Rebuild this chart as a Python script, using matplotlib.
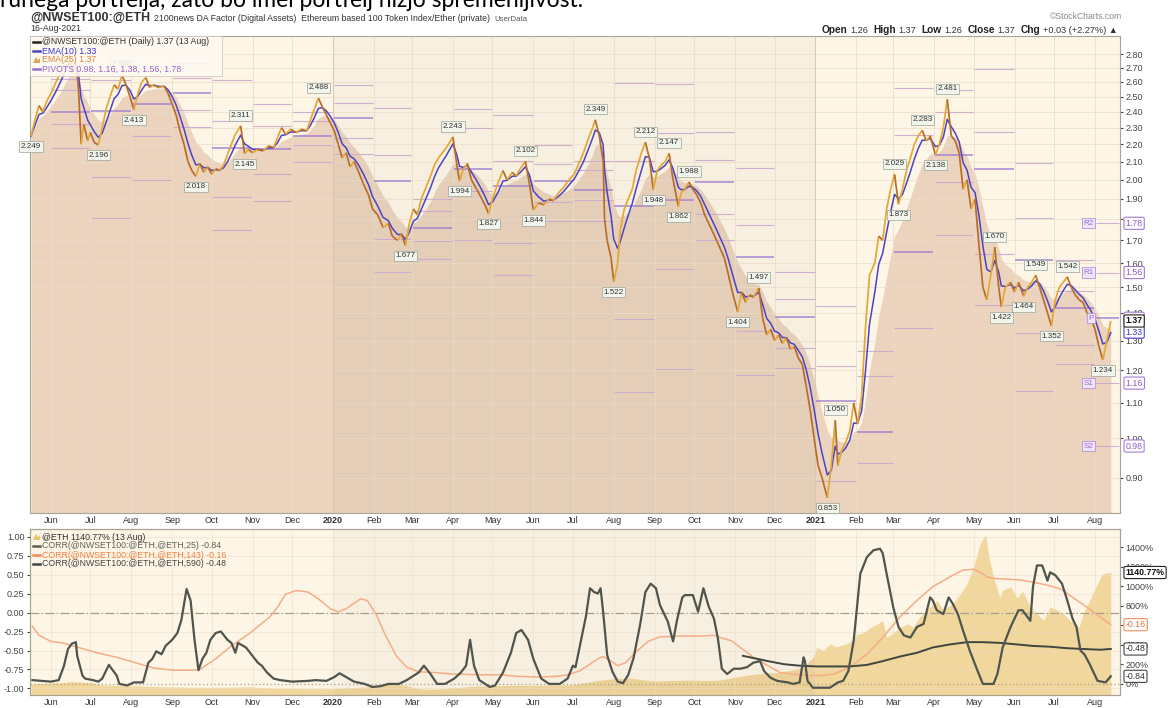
import numpy as np
import pandas as pd
import matplotlib
matplotlib.use("Agg")
import matplotlib.pyplot as plt
import matplotlib.dates as mdates
from matplotlib.collections import LineCollection
from matplotlib.lines import Line2D
from matplotlib.patches import Rectangle, Polygon
from matplotlib.transforms import IdentityTransform
from matplotlib.ticker import NullLocator, NullFormatter

plt.rcParams['font.family'] = ['Liberation Sans', 'DejaVu Sans']

# ---------------------------------------------------------------- data
price_dates = [
    '2019-05-17', '2019-05-20', '2019-05-23', '2019-05-26', '2019-05-29', '2019-06-01', '2019-06-05',
    '2019-06-09', '2019-06-12', '2019-06-15', '2019-06-17', '2019-06-20', '2019-06-22', '2019-06-24',
    '2019-06-26', '2019-06-29', '2019-07-01', '2019-07-04', '2019-07-07', '2019-07-10', '2019-07-13',
    '2019-07-16', '2019-07-19', '2019-07-22', '2019-07-25', '2019-07-28', '2019-07-31', '2019-08-03',
    '2019-08-06', '2019-08-09', '2019-08-12', '2019-08-15', '2019-08-18', '2019-08-22', '2019-08-26',
    '2019-08-29', '2019-09-01', '2019-09-04', '2019-09-07', '2019-09-10', '2019-09-13', '2019-09-16',
    '2019-09-19', '2019-09-22', '2019-09-25', '2019-09-28', '2019-10-01', '2019-10-04', '2019-10-07',
    '2019-10-10', '2019-10-13', '2019-10-16', '2019-10-19', '2019-10-23', '2019-10-26', '2019-10-29',
    '2019-11-01', '2019-11-05', '2019-11-09', '2019-11-13', '2019-11-17', '2019-11-20', '2019-11-23',
    '2019-11-26', '2019-11-30', '2019-12-04', '2019-12-08', '2019-12-12', '2019-12-15', '2019-12-18',
    '2019-12-21', '2019-12-24', '2019-12-27', '2019-12-30', '2020-01-02', '2020-01-05', '2020-01-08',
    '2020-01-11', '2020-01-14', '2020-01-17', '2020-01-20', '2020-01-24', '2020-01-28', '2020-01-31',
    '2020-02-04', '2020-02-08', '2020-02-12', '2020-02-15', '2020-02-19', '2020-02-22', '2020-02-25',
    '2020-02-28', '2020-03-02', '2020-03-05', '2020-03-08', '2020-03-11', '2020-03-15', '2020-03-18',
    '2020-03-21', '2020-03-27', '2020-04-01', '2020-04-04', '2020-04-06', '2020-04-09', '2020-04-12',
    '2020-04-15', '2020-04-19', '2020-04-23', '2020-04-26', '2020-04-28', '2020-05-01', '2020-05-05',
    '2020-05-09', '2020-05-12', '2020-05-16', '2020-05-19', '2020-05-22', '2020-05-26', '2020-05-29',
    '2020-06-01', '2020-06-05', '2020-06-09', '2020-06-13', '2020-06-16', '2020-06-20', '2020-06-24',
    '2020-06-28', '2020-07-02', '2020-07-05', '2020-07-09', '2020-07-13', '2020-07-16', '2020-07-18',
    '2020-07-21', '2020-07-24', '2020-07-25', '2020-07-27', '2020-07-30', '2020-08-01', '2020-08-04',
    '2020-08-06', '2020-08-09', '2020-08-12', '2020-08-15', '2020-08-18', '2020-08-22', '2020-08-25',
    '2020-08-28', '2020-08-31', '2020-09-03', '2020-09-06', '2020-09-09', '2020-09-12', '2020-09-15',
    '2020-09-19', '2020-09-21', '2020-09-24', '2020-09-27', '2020-09-30', '2020-10-03', '2020-10-06',
    '2020-10-09', '2020-10-12', '2020-10-15', '2020-10-18', '2020-10-21', '2020-10-24', '2020-10-27',
    '2020-10-30', '2020-11-03', '2020-11-06', '2020-11-09', '2020-11-12', '2020-11-15', '2020-11-19',
    '2020-11-22', '2020-11-25', '2020-11-28', '2020-12-01', '2020-12-04', '2020-12-07', '2020-12-10',
    '2020-12-13', '2020-12-16', '2020-12-19', '2020-12-22', '2020-12-25', '2020-12-28', '2020-12-31',
    '2021-01-03', '2021-01-06', '2021-01-10', '2021-01-13', '2021-01-16', '2021-01-18', '2021-01-21',
    '2021-01-24', '2021-01-27', '2021-01-30', '2021-02-02', '2021-02-05', '2021-02-08', '2021-02-11',
    '2021-02-15', '2021-02-18', '2021-02-21', '2021-02-24', '2021-02-27', '2021-03-02', '2021-03-05',
    '2021-03-08', '2021-03-11', '2021-03-14', '2021-03-17', '2021-03-20', '2021-03-23', '2021-03-26',
    '2021-03-29', '2021-04-02', '2021-04-05', '2021-04-08', '2021-04-11', '2021-04-14', '2021-04-17',
    '2021-04-20', '2021-04-23', '2021-04-26', '2021-04-29', '2021-05-02', '2021-05-05', '2021-05-08',
    '2021-05-11', '2021-05-14', '2021-05-17', '2021-05-20', '2021-05-22', '2021-05-25', '2021-05-29',
    '2021-06-01', '2021-06-04', '2021-06-08', '2021-06-11', '2021-06-14', '2021-06-17', '2021-06-20',
    '2021-06-23', '2021-06-26', '2021-06-29', '2021-07-02', '2021-07-05', '2021-07-08', '2021-07-11',
    '2021-07-14', '2021-07-17', '2021-07-20', '2021-07-23', '2021-07-26', '2021-07-29', '2021-08-01',
    '2021-08-04', '2021-08-07', '2021-08-10', '2021-08-13']
price_values = [
    2.249, 2.35, 2.44, 2.40, 2.47, 2.52, 2.60,
    2.68, 2.75, 2.80, 2.66, 2.74, 2.55, 2.20,
    2.32, 2.22, 2.27, 2.21, 2.196, 2.30, 2.42,
    2.50, 2.58, 2.55, 2.646, 2.58, 2.50, 2.413,
    2.52, 2.60, 2.63, 2.56, 2.58, 2.56, 2.57,
    2.52, 2.45, 2.38, 2.28, 2.20, 2.10, 2.05,
    2.018, 2.09, 2.04, 2.07, 2.03, 2.06, 2.05,
    2.08, 2.14, 2.20, 2.26, 2.311, 2.145, 2.17,
    2.15, 2.17, 2.16, 2.19, 2.18, 2.24, 2.30,
    2.26, 2.29, 2.27, 2.29, 2.28, 2.35, 2.42,
    2.488, 2.43, 2.38, 2.33, 2.28, 2.20, 2.12,
    2.15, 2.07, 2.10, 2.05, 1.98, 1.92, 1.85,
    1.82, 1.76, 1.78, 1.72, 1.70, 1.73, 1.677,
    1.78, 1.85, 1.82, 1.90, 1.95, 2.02, 2.08,
    2.12, 2.18, 2.243, 2.08, 1.994, 2.06, 2.09,
    2.00, 1.95, 1.90, 1.86, 1.827, 1.90, 1.98,
    2.05, 2.00, 2.04, 2.02, 2.06, 2.102, 1.98,
    1.844, 1.88, 1.87, 1.90, 1.89, 1.93, 1.96,
    2.00, 2.03, 2.08, 2.15, 2.24, 2.30, 2.349,
    2.25, 2.10, 1.80, 1.70, 1.62, 1.522, 1.60,
    1.75, 1.85, 1.90, 1.95, 2.05, 2.15, 2.212,
    2.12, 1.948, 2.05, 2.08, 2.10, 2.147, 2.00,
    1.862, 1.93, 1.95, 1.988, 1.95, 1.92, 1.88,
    1.82, 1.78, 1.74, 1.70, 1.66, 1.62, 1.55,
    1.48, 1.404, 1.48, 1.44, 1.47, 1.46, 1.497,
    1.38, 1.32, 1.34, 1.30, 1.32, 1.29, 1.31,
    1.27, 1.28, 1.24, 1.22, 1.15, 1.08, 1.00,
    0.93, 0.90, 0.853, 0.93, 1.050, 0.93, 0.97,
    0.99, 1.02, 1.10, 1.04, 1.12, 1.35, 1.55,
    1.60, 1.72, 1.70, 1.85, 1.95, 2.029, 1.873,
    1.95, 2.05, 2.12, 2.20, 2.25, 2.283, 2.22,
    2.25, 2.138, 2.20, 2.30, 2.481, 2.25, 2.22,
    2.15, 1.95, 2.00, 1.85, 1.90, 1.68, 1.50,
    1.45, 1.55, 1.670, 1.50, 1.422, 1.50, 1.52,
    1.48, 1.52, 1.464, 1.50, 1.52, 1.549, 1.50,
    1.45, 1.40, 1.352, 1.45, 1.50, 1.52, 1.542,
    1.50, 1.47, 1.45, 1.44, 1.40, 1.38, 1.34,
    1.28, 1.234, 1.30, 1.37]

extreme_dates = [
    '2019-05-17', '2019-07-07', '2019-07-25', '2019-08-03', '2019-09-19', '2019-10-23', '2019-10-26',
    '2019-12-21', '2020-02-25', '2020-04-01', '2020-04-06', '2020-04-28', '2020-05-26', '2020-06-01',
    '2020-07-18', '2020-08-01', '2020-08-25', '2020-08-31', '2020-09-12', '2020-09-19', '2020-09-27',
    '2020-11-03', '2020-11-19', '2021-01-10', '2021-01-16', '2021-03-02', '2021-03-05', '2021-03-23',
    '2021-04-02', '2021-04-11', '2021-05-17', '2021-05-22', '2021-06-08', '2021-06-17', '2021-06-29',
    '2021-07-11', '2021-08-07']

ema_fast_n, ema_slow_n = 10, 25
last_pivots = [0.98, 1.16, 1.38, 1.56, 1.78]
pivot_names = ['S2', 'S1', 'P', 'R1', 'R2']
last_close, last_ema10, last_ema25 = 1.37, 1.33, 1.37

corr25_dates = [
    '2019-05-18', '2019-06-01', '2019-06-07', '2019-06-11', '2019-06-14', '2019-06-17', '2019-06-20',
    '2019-06-21', '2019-06-25', '2019-06-27', '2019-07-03', '2019-07-07', '2019-07-10', '2019-07-15',
    '2019-07-21', '2019-07-23', '2019-07-29', '2019-08-03', '2019-08-10', '2019-08-14', '2019-08-17',
    '2019-08-20', '2019-08-24', '2019-08-27', '2019-09-01', '2019-09-05', '2019-09-08', '2019-09-12',
    '2019-09-15', '2019-09-18', '2019-09-21', '2019-09-24', '2019-09-27', '2019-09-30', '2019-10-04',
    '2019-10-08', '2019-10-13', '2019-10-16', '2019-10-19', '2019-10-21', '2019-10-27', '2019-11-01',
    '2019-11-05', '2019-11-08', '2019-11-12', '2019-11-17', '2019-11-22', '2019-12-01', '2019-12-13',
    '2019-12-19', '2019-12-27', '2020-01-02', '2020-01-06', '2020-01-11', '2020-01-17', '2020-01-25',
    '2020-01-31', '2020-02-06', '2020-02-12', '2020-02-20', '2020-02-26', '2020-03-06', '2020-03-10',
    '2020-03-15', '2020-03-20', '2020-03-26', '2020-04-02', '2020-04-07', '2020-04-11', '2020-04-14',
    '2020-04-17', '2020-04-21', '2020-04-29', '2020-05-03', '2020-05-09', '2020-05-15', '2020-05-19',
    '2020-05-23', '2020-05-28', '2020-06-01', '2020-06-07', '2020-06-13', '2020-06-21', '2020-06-27',
    '2020-07-01', '2020-07-03', '2020-07-07', '2020-07-11', '2020-07-14', '2020-07-17', '2020-07-20',
    '2020-07-22', '2020-07-24', '2020-07-27', '2020-07-31', '2020-08-04', '2020-08-08', '2020-08-12',
    '2020-08-16', '2020-08-21', '2020-08-25', '2020-08-29', '2020-09-02', '2020-09-05', '2020-09-11',
    '2020-09-15', '2020-09-18', '2020-09-22', '2020-09-24', '2020-09-30', '2020-10-04', '2020-10-08',
    '2020-10-12', '2020-10-16', '2020-10-19', '2020-10-22', '2020-10-26', '2020-10-31', '2020-11-05',
    '2020-11-10', '2020-11-15', '2020-11-20', '2020-11-23', '2020-11-28', '2020-12-03', '2020-12-11',
    '2020-12-15', '2020-12-20', '2020-12-23', '2020-12-24', '2020-12-26', '2020-12-30', '2021-01-07',
    '2021-01-12', '2021-01-18', '2021-01-22', '2021-01-26', '2021-01-30', '2021-02-04', '2021-02-09',
    '2021-02-14', '2021-02-19', '2021-02-21', '2021-02-24', '2021-03-01', '2021-03-05', '2021-03-09',
    '2021-03-14', '2021-03-19', '2021-03-24', '2021-03-29', '2021-03-31', '2021-04-03', '2021-04-08',
    '2021-04-12', '2021-04-15', '2021-04-19', '2021-04-23', '2021-04-28', '2021-05-04', '2021-05-08',
    '2021-05-16', '2021-05-19', '2021-05-23', '2021-05-29', '2021-06-04', '2021-06-07', '2021-06-13',
    '2021-06-15', '2021-06-18', '2021-06-22', '2021-06-26', '2021-06-28', '2021-07-02', '2021-07-07',
    '2021-07-11', '2021-07-15', '2021-07-18', '2021-07-21', '2021-07-24', '2021-07-28', '2021-08-03',
    '2021-08-09', '2021-08-13']
corr25_values = [
    -0.89, -0.91, -0.89, -0.70, -0.48, -0.41, -0.39,
    -0.57, -0.83, -0.87, -0.89, -0.91, -0.87, -0.69,
    -0.83, -0.94, -0.96, -0.92, -0.92, -0.66, -0.61,
    -0.51, -0.55, -0.44, -0.36, -0.27, -0.10, 0.31,
    0.16, -0.36, -0.76, -0.61, -0.53, -0.36, -0.27,
    -0.25, -0.36, -0.40, -0.53, -0.40, -0.46, -0.57,
    -0.66, -0.70, -0.79, -0.87, -0.89, -0.91, -0.90,
    -0.89, -0.90, -0.85, -0.80, -0.85, -0.91, -0.94,
    -0.98, -0.97, -0.94, -0.94, -0.89, -0.79, -0.70,
    -0.81, -0.94, -0.94, -0.87, -0.79, -0.70, -0.36,
    -0.70, -0.89, -0.98, -0.96, -0.79, -0.53, -0.27,
    -0.23, -0.36, -0.61, -0.87, -0.94, -0.94, -0.87,
    -0.70, -0.72, -0.38, -0.04, 0.32, 0.27, 0.25,
    0.32, 0.00, -0.56, -0.78, -0.91, -0.93, -0.82,
    -0.60, -0.16, 0.27, 0.38, 0.32, 0.10, -0.12,
    -0.38, -0.10, 0.20, 0.23, 0.23, 0.01, 0.32,
    0.08, -0.08, -0.34, -0.74, -0.81, -0.74, -0.74,
    -0.72, -0.66, -0.64, -0.77, -0.86, -0.90, -0.92,
    -0.94, -0.92, -0.59, -0.64, -0.90, -0.99, -0.99,
    -0.99, -0.92, -0.90, -0.77, -0.37, 0.51, 0.73,
    0.82, 0.84, 0.78, 0.51, 0.07, -0.19, -0.30,
    -0.33, -0.19, -0.15, 0.20, 0.16, 0.03, -0.02,
    0.20, 0.12, -0.02, -0.24, -0.50, -0.77, -0.94,
    -0.94, -0.81, -0.46, -0.19, 0.03, 0.03, -0.11,
    0.34, 0.62, 0.62, 0.42, 0.53, 0.49, 0.38,
    0.16, -0.08, -0.19, -0.50, -0.55, -0.68, -0.90,
    -0.92, -0.84]

corr143_dates = [
    '2019-05-18', '2019-05-23', '2019-06-01', '2019-06-10', '2019-06-22', '2019-07-06', '2019-07-21',
    '2019-08-04', '2019-08-18', '2019-09-02', '2019-09-17', '2019-09-22', '2019-10-04', '2019-10-16',
    '2019-10-30', '2019-11-14', '2019-11-20', '2019-11-26', '2019-12-04', '2019-12-13', '2019-12-21',
    '2019-12-30', '2020-01-05', '2020-01-11', '2020-01-16', '2020-01-22', '2020-01-27', '2020-02-03',
    '2020-02-09', '2020-02-18', '2020-02-26', '2020-03-06', '2020-03-18', '2020-04-01', '2020-04-21',
    '2020-05-06', '2020-05-20', '2020-06-04', '2020-06-19', '2020-06-27', '2020-07-06', '2020-07-14',
    '2020-07-21', '2020-07-24', '2020-07-30', '2020-08-04', '2020-08-10', '2020-08-16', '2020-08-27',
    '2020-09-05', '2020-09-21', '2020-10-06', '2020-10-16', '2020-10-21', '2020-10-29', '2020-11-05',
    '2020-11-15', '2020-11-26', '2020-12-05', '2020-12-15', '2020-12-26', '2021-01-05', '2021-01-15',
    '2021-01-27', '2021-02-09', '2021-02-21', '2021-03-06', '2021-03-19', '2021-03-31', '2021-04-13',
    '2021-04-23', '2021-05-01', '2021-05-06', '2021-05-11', '2021-05-16', '2021-05-26', '2021-06-05',
    '2021-06-15', '2021-06-26', '2021-07-06', '2021-07-15', '2021-07-26', '2021-08-05', '2021-08-13']
corr143_values = [
    -0.18, -0.30, -0.38, -0.40, -0.46, -0.53, -0.59,
    -0.66, -0.73, -0.76, -0.76, -0.75, -0.61, -0.44,
    -0.27, -0.06, 0.07, 0.24, 0.29, 0.27, 0.18,
    0.05, 0.01, 0.05, 0.11, 0.18, 0.16, -0.03,
    -0.27, -0.57, -0.72, -0.78, -0.79, -0.81, -0.82,
    -0.82, -0.84, -0.85, -0.84, -0.82, -0.77, -0.68,
    -0.60, -0.58, -0.64, -0.70, -0.66, -0.55, -0.38,
    -0.32, -0.31, -0.31, -0.30, -0.33, -0.37, -0.46,
    -0.59, -0.70, -0.79, -0.81, -0.83, -0.83, -0.81,
    -0.72, -0.55, -0.33, -0.06, 0.16, 0.34, 0.47,
    0.56, 0.57, 0.53, 0.47, 0.45, 0.44, 0.43,
    0.40, 0.36, 0.31, 0.20, 0.07, -0.06, -0.16]

corr590_dates = [
    '2020-11-07', '2020-11-26', '2020-12-08', '2020-12-20', '2021-01-02', '2021-01-15', '2021-01-27',
    '2021-02-09', '2021-02-21', '2021-03-06', '2021-03-19', '2021-03-31', '2021-04-13', '2021-04-26',
    '2021-05-08', '2021-05-21', '2021-06-03', '2021-06-15', '2021-06-28', '2021-07-11', '2021-07-23',
    '2021-08-05', '2021-08-13']
corr590_values = [
    -0.57, -0.64, -0.68, -0.70, -0.71, -0.71, -0.71,
    -0.69, -0.64, -0.58, -0.53, -0.46, -0.42, -0.39,
    -0.39, -0.40, -0.42, -0.44, -0.45, -0.47, -0.48,
    -0.49, -0.48]

eth_dates = [
    '2019-05-17', '2019-06-01', '2019-06-09', '2019-06-17', '2019-06-24', '2019-07-02', '2019-07-09',
    '2019-07-21', '2019-08-01', '2019-08-16', '2019-08-31', '2019-09-15', '2019-10-01', '2019-10-16',
    '2019-10-31', '2019-11-11', '2019-11-23', '2019-12-08', '2019-12-23', '2020-01-03', '2020-01-15',
    '2020-01-26', '2020-02-06', '2020-02-18', '2020-02-25', '2020-03-04', '2020-03-11', '2020-03-23',
    '2020-04-03', '2020-04-15', '2020-04-30', '2020-05-15', '2020-05-30', '2020-06-14', '2020-06-29',
    '2020-07-11', '2020-07-22', '2020-08-02', '2020-08-14', '2020-08-25', '2020-09-02', '2020-09-13',
    '2020-09-28', '2020-10-10', '2020-10-21', '2020-11-01', '2020-11-13', '2020-11-24', '2020-12-05',
    '2020-12-17', '2020-12-24', '2020-12-30', '2021-01-02', '2021-01-07', '2021-01-12', '2021-01-17',
    '2021-01-22', '2021-01-27', '2021-02-02', '2021-02-06', '2021-02-12', '2021-02-17', '2021-02-21',
    '2021-02-24', '2021-03-01', '2021-03-06', '2021-03-12', '2021-03-16', '2021-03-21', '2021-03-29',
    '2021-04-03', '2021-04-08', '2021-04-15', '2021-04-21', '2021-04-26', '2021-05-01', '2021-05-06',
    '2021-05-10', '2021-05-13', '2021-05-17', '2021-05-21', '2021-05-23', '2021-05-29', '2021-06-03',
    '2021-06-07', '2021-06-13', '2021-06-18', '2021-06-23', '2021-06-28', '2021-07-03', '2021-07-08',
    '2021-07-13', '2021-07-20', '2021-07-23', '2021-07-28', '2021-08-03', '2021-08-07', '2021-08-13']
eth_pct = [
    0, 10, 15, 25, 20, 15, -10,
    -15, -18, -25, -30, -33, -35, -32,
    -30, -40, -45, -48, -50, -48, -40,
    -30, -10, 0, -15, -45, -55, -50,
    -40, -25, -20, -15, -15, -10, -10,
    15, 40, 55, 60, 40, 30, 35,
    40, 35, 40, 70, 95, 110, 120,
    150, 190, 270, 375, 340, 410, 380,
    400, 426, 510, 520, 580, 615, 650,
    478, 520, 580, 615, 580, 684, 787,
    855, 760, 820, 924, 1027, 1199, 1440,
    1526, 1268, 1050, 880, 960, 993, 880,
    950, 787, 718, 650, 787, 760, 720,
    650, 580, 718, 855, 1027, 1130, 1140.77]

corr_last = {'25': -0.84, '143': -0.16, '590': -0.48}
eth_last = 1140.77

price_ticks = [0.90, 1.00, 1.10, 1.20, 1.30, 1.40, 1.50, 1.60, 1.70, 1.80, 1.90,
               2.00, 2.10, 2.20, 2.30, 2.40, 2.50, 2.60, 2.70, 2.80]
corr_ticks = [-1.00, -0.75, -0.50, -0.25, 0.00, 0.25, 0.50, 0.75, 1.00]
pct_ticks = [0, 200, 400, 600, 800, 1000, 1200, 1400]
month_ticks = pd.date_range('2019-06-01', '2021-08-01', freq='MS')
x_start, x_end = pd.Timestamp('2019-05-16 05:00'), pd.Timestamp('2021-08-20')

# ---------------------------------------------------------------- figure
W, H = 1168, 708
fig = plt.figure(figsize=(W / 100, H / 100), dpi=100)
fig.patch.set_facecolor('white')


def fx(x):
    return x / W


def fy(y):
    return 1 - y / H


ax = fig.add_axes([fx(30), fy(513), fx(1120) - fx(30), fy(36) - fy(513)])
ax2 = fig.add_axes([fx(30), fy(695), fx(1120) - fx(30), fy(529) - fy(695)])
ax2b = ax2.twinx()

CREAM = '#fdf5e5'
TAN = '#ebd3bd'
GRID = '#eadcc6'
SPINE = '#aaa294'

s = pd.Series(price_values, index=pd.to_datetime(price_dates))


def ema(series, n):
    hl = np.log(2) / -np.log(1 - 2 / (n + 1))
    return series.ewm(halflife=pd.Timedelta(days=hl), times=series.index).mean()


ema10 = ema(s, ema_fast_n)
ema25 = ema(s, ema_slow_n)

# ---------------- main panel
ax.set_facecolor(CREAM)
ax.set_yscale('log')
ax.set_xlim(x_start, x_end)
ax.set_ylim(0.819, 2.94)

ax.fill_between(s.index, 0.5, ema25.values, color=TAN, lw=0, zorder=1)
ax.axvspan(pd.Timestamp('2020-01-01'), pd.Timestamp('2021-01-01'), color='black', alpha=0.025, lw=0, zorder=1.2)
for t in price_ticks:
    ax.axhline(t, color=GRID, lw=0.6, alpha=0.8, zorder=1.4)
for m in month_ticks:
    yr = m.month == 1
    ax.axvline(m, color='#d9c8b0' if yr else GRID, lw=0.8 if yr else 0.6, alpha=0.9, zorder=1.4)

# monthly pivot points (from previous month's high / low / close)
mon = s.resample('MS').agg(['max', 'min', 'last'])
P = (mon['max'] + mon['min'] + mon['last']) / 3
rng = mon['max'] - mon['min']
piv = pd.DataFrame({'S2': P - rng, 'S1': 2 * P - mon['max'], 'P': P,
                    'R1': 2 * P - mon['min'], 'R2': P + rng})
piv.index = piv.index + pd.offsets.MonthBegin(1)
last_month = pd.Timestamp('2021-08-01')
piv.loc[last_month] = last_pivots
for start, row in piv.iterrows():
    if start >= x_end:
        continue
    end = min(start + pd.offsets.MonthBegin(1), x_end)
    for name in pivot_names:
        isP = name == 'P'
        ax.hlines(row[name], start + pd.Timedelta(hours=12), end - pd.Timedelta(hours=12),
                  color='#a07cd2' if isP else '#c9a9cf', lw=1.1 if isP else 0.8,
                  alpha=0.9, zorder=2)

ax.plot(ema10.index, ema10.values, color='#4a43c6', lw=1.1, zorder=3)

xn = mdates.date2num(s.index.to_pydatetime())
pts = np.column_stack([xn, s.values])
segs = np.stack([pts[:-1], pts[1:]], axis=1)
cols = ['#e4a733' if b >= a else '#b86c2a' for a, b in zip(s.values[:-1], s.values[1:])]
ax.add_collection(LineCollection(segs, colors=cols, linewidths=1.25, zorder=4))

# peak / trough value labels
vals = list(s.values)
idx_map = {d: i for i, d in enumerate(price_dates)}
for d in extreme_dates:
    i = idx_map[d]
    v = vals[i]
    nb = [vals[k] for k in (i - 1, i + 1) if 0 <= k < len(vals)]
    peak = v > max(nb)
    ax.annotate(f'{v:.3f}', (pd.Timestamp(d), v), xytext=(0, 5 if peak else -5),
                textcoords='offset points', ha='center', va='bottom' if peak else 'top',
                fontsize=5.8, color='#333333', zorder=6, annotation_clip=False,
                bbox=dict(boxstyle='square,pad=0.2', fc='#f2f5ec', ec='#9aa39a', lw=0.5))

ax.yaxis.tick_right()
ax.set_yticks(price_ticks)
ax.set_yticklabels([f'{t:.2f}' for t in price_ticks])
ax.yaxis.set_minor_locator(NullLocator())
ax.yaxis.set_minor_formatter(NullFormatter())
ax.tick_params(axis='y', length=2, pad=2, labelsize=6.5, colors='#444444')
month_labels = [str(m.year) if m.month == 1 else m.strftime('%b') for m in month_ticks]
ax.set_xticks(month_ticks)
ax.set_xticklabels(month_labels)
ax.tick_params(axis='x', length=0, pad=2, labelsize=6.5, colors='#333333')
for lab, m in zip(ax.get_xticklabels(), month_ticks):
    if m.month == 1:
        lab.set_fontweight('bold')
for sp in ax.spines.values():
    sp.set_color(SPINE)
    sp.set_linewidth(0.8)


def tag(a, y, text, ec, color='#333333', bold=False, fc='white'):
    a.annotate(text, xy=(1.0, y), xycoords=a.get_yaxis_transform(), xytext=(4, 0),
               textcoords='offset points', ha='left', va='center', fontsize=6.3,
               fontweight='bold' if bold else 'normal', color=color, zorder=10,
               annotation_clip=False,
               bbox=dict(boxstyle='round,pad=0.18', fc=fc, ec=ec, lw=0.8))


for val, name in zip(last_pivots, pivot_names):
    tag(ax, val, f'{val:.2f}', ec='#a57ad6', color='#8a5cc8')
    ax.annotate(name, xy=(last_month, val), xytext=(-1, 0), textcoords='offset points',
                ha='right', va='center', fontsize=5.8, color='#9b6ad4', zorder=7,
                bbox=dict(boxstyle='square,pad=0.2', fc='#efe5f7', ec='#b591dd', lw=0.6))
tag(ax, last_ema10, f'{last_ema10:.2f}', ec='#4a43c6', color='#3b36c4')
tag(ax, last_close, f'{last_close:.2f}', ec='#222222', color='#111111', bold=True)

# ---------------- lower panel
ax2.set_zorder(2)
ax2b.set_zorder(1)
ax2.patch.set_visible(False)
ax2b.patch.set_visible(True)
ax2b.set_facecolor(CREAM)
ax2.set_xlim(x_start, x_end)
ax2.set_ylim(-1.086, 1.10)
ax2b.set_ylim(-113, 1586)

eth_idx = pd.to_datetime(eth_dates)
ax2b.fill_between(eth_idx, -300, eth_pct, color='#efd28e', alpha=0.85, lw=0, zorder=1)
ax2b.axvspan(pd.Timestamp('2020-01-01'), pd.Timestamp('2021-01-01'), color='black', alpha=0.025, lw=0, zorder=1.5)
ax2b.axhline(0, color='#a89e8c', lw=0.9, ls=(0, (1, 2)), zorder=2)
for t in corr_ticks:
    ax2.axhline(t, color=GRID, lw=0.6, alpha=0.6, zorder=0.5)
for m in month_ticks:
    ax2.axvline(m, color=GRID, lw=0.6, alpha=0.6, zorder=0.5)
ax2.axhline(0, color='#a89e8c', lw=0.9, ls=(0, (7, 2, 1, 2)), zorder=1)

ax2.plot(pd.to_datetime(corr143_dates), corr143_values, color='#f5ad87', lw=1.1, zorder=2)
ax2.plot(pd.to_datetime(corr590_dates), corr590_values, color='#3f4541', lw=1.4, zorder=3)
ax2.plot(pd.to_datetime(corr25_dates), corr25_values, color='#4f554e', lw=1.6, zorder=4)

ax2.set_yticks(corr_ticks)
ax2.set_yticklabels([f'{t:.2f}' for t in corr_ticks])
ax2.tick_params(axis='y', length=2, pad=2, labelsize=6.5, colors='#444444')
ax2.set_xticks(month_ticks)
ax2.set_xticklabels(month_labels)
ax2.tick_params(axis='x', length=0, pad=2, labelsize=6.5, colors='#333333')
for lab, m in zip(ax2.get_xticklabels(), month_ticks):
    if m.month == 1:
        lab.set_fontweight('bold')
ax2b.set_yticks(pct_ticks)
ax2b.set_yticklabels([f'{t}%' for t in pct_ticks])
ax2b.tick_params(axis='y', length=2, pad=2, labelsize=6.5, colors='#444444')
for a in (ax2, ax2b):
    for sp in a.spines.values():
        sp.set_color(SPINE)
        sp.set_linewidth(0.8)

tag(ax2b, eth_last, f'{eth_last:.2f}%', ec='#222222', color='#111111', bold=True)
tag(ax2, corr_last['143'], f"{corr_last['143']:.2f}", ec='#f0905a', color='#e0703a')
tag(ax2, corr_last['590'], f"{corr_last['590']:.2f}", ec='#444444', color='#333333')
tag(ax2, corr_last['25'], f"{corr_last['25']:.2f}", ec='#444444', color='#333333')

# ---------------- texts in pixel coordinates
renderer = fig.canvas.get_renderer()
IT = IdentityTransform()


def runs(x_px, y_px, items, ha='left'):
    objs = []
    for txt, kw, gap in items:
        t = fig.text(0, 0, txt, transform=IT, va='baseline', ha='left', **kw)
        objs.append((t, t.get_window_extent(renderer=renderer).width, gap))
    total = sum(w + g for _, w, g in objs) - objs[-1][2]
    x = x_px - total if ha == 'right' else x_px
    for t, w, g in objs:
        t.set_position((x, H - y_px))
        x += w + g


fig.text(0, H - 7, 'runega portfelja, zato bo imel portfelj nižjo spremenljivost.',
         transform=IT, va='baseline', ha='left', fontsize=16.5, family=['Lato', 'DejaVu Sans'],
         color='black')

runs(30, 21, [('@NWSET100:@ETH', dict(fontsize=9, fontweight='bold', color='#333333'), 4),
              ('2100news DA Factor (Digital Assets)  Ethereum based 100 Token Index/Ether (private)',
               dict(fontsize=6.3, color='#333333'), 4),
              ('UserData', dict(fontsize=5.6, color='#555555'), 0)])
runs(30, 31, [('16-Aug-2021', dict(fontsize=6.3, color='#333333'), 0)])
runs(1122, 19, [('\u00a9StockCharts.com', dict(fontsize=6.2, color='#888888'), 0)], ha='right')
B = dict(fontsize=7.3, fontweight='bold', color='#222222')
N = dict(fontsize=6.6, color='#333333')
runs(1118, 33, [('Open', B, 3), ('1.26', N, 5), ('High', B, 3), ('1.37', N, 5), ('Low', B, 3),
                ('1.26', N, 5), ('Close', B, 3), ('1.37', N, 5), ('Chg', B, 3),
                ('+0.03 (+2.27%) \u25b2', N, 0)], ha='right')

# main legend
fig.add_artist(Rectangle((30, H - 76), 192, 40, transform=IT, fc='#fffaf2', ec='#cfc6b8',
                         lw=0.6, alpha=0.88, zorder=5))
leg_main = [('line', '#222222', '@NWSET100:@ETH (Daily) 1.37 (13 Aug)', '#333333'),
            ('line', '#4a43c6', 'EMA(10) 1.33', '#3b36c4'),
            ('area', '#e0a35a', 'EMA(25) 1.37', '#d4883a'),
            ('line', '#9c6ed2', 'PIVOTS 0.98, 1.16, 1.38, 1.56, 1.78', '#9a62d0')]


def legend_rows(rows, x0, y0, dy):
    for k, (kind, mc, txt, tc) in enumerate(rows):
        yc = y0 + k * dy
        if kind == 'line':
            fig.add_artist(Line2D([x0, x0 + 7], [H - yc, H - yc], transform=IT, color=mc,
                                  lw=1.8, zorder=6))
        else:
            fig.add_artist(Polygon([[x0, H - yc - 3], [x0 + 3, H - yc + 3], [x0 + 5, H - yc],
                                    [x0 + 7, H - yc + 2], [x0 + 7, H - yc - 3]],
                                   closed=True, transform=IT, fc=mc, ec='none', zorder=6))
        fig.text(x0 + 9, H - yc, txt, transform=IT, va='center', ha='left',
                 fontsize=6.3, color=tc, zorder=6)


legend_rows(leg_main, 33, 42, 9)

leg_low = [('area', '#e8c46a', '@ETH 1140.77% (13 Aug)', '#333333'),
           ('line', '#5c625a', 'CORR(@NWSET100:@ETH,@ETH,25) -0.84', '#5c625a'),
           ('line', '#f28c55', 'CORR(@NWSET100:@ETH,@ETH,143) -0.16', '#f07f45'),
           ('line', '#3f4541', 'CORR(@NWSET100:@ETH,@ETH,590) -0.48', '#444444')]
legend_rows(leg_low, 33, 537, 9)

fig.savefig('out.png', dpi=100, facecolor='white')
